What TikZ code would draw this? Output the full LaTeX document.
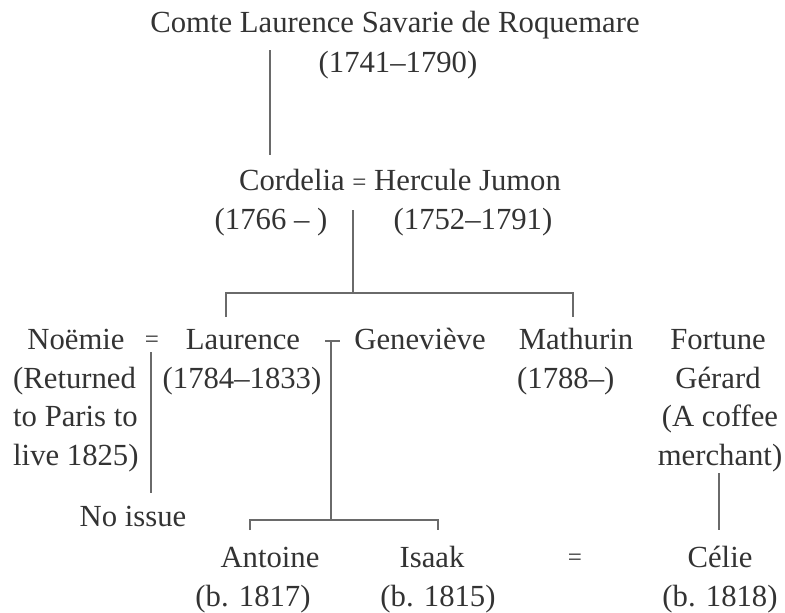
\documentclass[tikz,border=0pt]{standalone}
\usepackage{fontspec}
\setmainfont{Liberation Serif}
\definecolor{ink}{HTML}{333333}
\definecolor{linec}{HTML}{6A6A6A}
\begin{document}
\begin{tikzpicture}[x=1pt,y=-1pt,
  txt/.style={anchor=base, inner sep=0pt, text=ink, font=\fontsize{30.7}{38}\selectfont},
  eqs/.style={anchor=base, inner sep=0pt, text=ink, font=\fontsize{25}{28}\selectfont},
  ln/.style={draw=linec, line width=1.8pt}]
\useasboundingbox (0,0) rectangle (785,613);
% text
\node[txt] (comte) at (395,32) {Comte Laurence Savarie de Roquemare};
\node[txt] (comted) at (398,72) {(1741–1790)};
\node[txt] (cord) at (400,190) {Cordelia {\fontsize{25}{28}\selectfont =} Hercule Jumon};
\node[txt] (cordd) at (271,229) {(1766 – )};
\node[txt] (herd) at (473,229) {(1752–1791)};
\node[txt] (noemie) at (76,349) {Noëmie};
\node[txt,anchor=base west] (note1) at (13,388) {(Returned};
\node[txt,anchor=base west] (note2) at (13,426) {to Paris to};
\node[txt,anchor=base west] (note3) at (13,465) {live 1825)};
\node[eqs] (eq1) at (152,347) {=};
\node[txt] (laur) at (243,349) {Laurence};
\node[txt] (laurd) at (242,388) {(1784–1833)};
\node[txt] (gen) at (420,349) {Geneviève};
\node[txt] (math) at (576,349) {Mathurin};
\node[txt,anchor=base west] (mathd) at (517,388) {(1788–)};
\node[txt] (fort) at (718,349) {Fortune};
\node[txt] (gerard) at (718,388) {Gérard};
\node[txt] (coffee) at (720,426) {(A coffee};
\node[txt] (merch) at (720,465) {merchant)};
\node[txt] (noissue) at (133,526) {No issue};
\node[txt] (ant) at (270,567) {Antoine};
\node[txt] (antd) at (253,606) {(b. 1817)};
\node[txt] (isaak) at (432,567) {Isaak};
\node[txt] (isaakd) at (438,606) {(b. 1815)};
\node[eqs] (eq2) at (575,565) {=};
\node[txt] (celie) at (720,567) {Célie};
\node[txt] (celied) at (720,606) {(b. 1818)};
% connector points
\coordinate (a1) at (270,50);  \coordinate (a2) at (270,155);
\coordinate (b1) at (353,210); \coordinate (b2) at (353,293);
\coordinate (bl) at (226,293); \coordinate (bl2) at (226,317);
\coordinate (br) at (573,293); \coordinate (br2) at (573,317);
\coordinate (t1) at (325,341); \coordinate (t2) at (340,341);
\coordinate (v1) at (331,341); \coordinate (v2) at (331,520);
\coordinate (cl) at (250,520); \coordinate (cl2) at (250,530);
\coordinate (cr) at (438,520); \coordinate (cr2) at (438,530);
\coordinate (n1) at (151,352); \coordinate (n2) at (151,493);
\coordinate (f1) at (719,473); \coordinate (f2) at (719,530);
% connectors
\draw[ln] (a1) -- (a2);
\draw[ln] (b1) -- (b2);
\draw[ln] (bl2) -- (bl) -- (br) -- (br2);
\draw[ln] (t1) -- (t2);
\draw[ln] (v1) -- (v2);
\draw[ln] (cl2) -- (cl) -- (cr) -- (cr2);
\draw[ln] (n1) -- (n2);
\draw[ln] (f1) -- (f2);
\end{tikzpicture}
\end{document}
